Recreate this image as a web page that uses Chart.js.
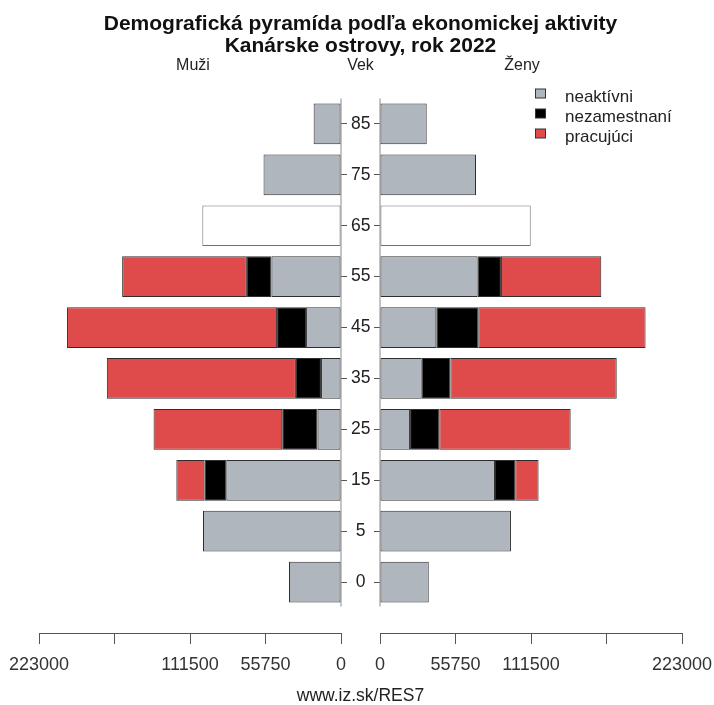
<!DOCTYPE html>
<html>
<head>
<meta charset="utf-8">
<script src="https://cdn.jsdelivr.net/npm/chart.js@4.4.1/dist/chart.umd.min.js"></script>
<style>
  html, body { margin: 0; padding: 0; background: #ffffff; }
  #wrap { position: relative; width: 714px; height: 705px; }
  canvas { position: absolute; left: 0; top: 0; }
</style>
</head>
<body>
<div id="wrap">
  <canvas id="men" width="714" height="705"></canvas>
  <canvas id="women" width="714" height="705"></canvas>
</div>
<script>
// ---------- data (bottom to top) ----------
const ages = ['0', '5', '15', '25', '35', '45', '55', '65', '75', '85'];
const seriesNames = ['neaktívni', 'nezamestnaní', 'pracujúci'];

const maleInactive   = [38400, 101900, 84700, 17300, 14800, 25800, 51300, null, 57200, 20200];
const maleUnemployed = [null, null, 16200, 26100, 18500, 21400, 18200, null, null, null];
const maleEmployed   = [null, null, 20700, 95000, 139600, 155100, 92100, null, null, null];
const maleTotalOnly  = [null, null, null, null, null, null, null, 102400, null, null];

const femaleInactive   = [36000, 96700, 84900, 22200, 30800, 41600, 72100, null, 70900, 34500];
const femaleUnemployed = [null, null, 15000, 21600, 21200, 31000, 17200, null, null, null];
const femaleEmployed   = [null, null, 17200, 97000, 122800, 123500, 74100, null, null, null];
const femaleTotalOnly  = [null, null, null, null, null, null, null, 111300, null, null];

const xTickValues = [0, 55750, 111500, 167250, 223000];
const xTickLabels = ['0', '55750', '111500', '', '223000'];

const titleLines = ['Demografická pyramída podľa ekonomickej aktivity', 'Kanárske ostrovy, rok 2022'];
const sideLabels = ['Muži', 'Vek', 'Ženy'];
const footer = 'www.iz.sk/RES7';

// ---------- styles ----------
const FONT = '"Liberation Sans", Arial, Helvetica, sans-serif';
Chart.defaults.font.family = FONT;
const colInactive = '#b0b6be';
const colUnemployed = '#000000';
const colEmployed = '#df4b4b';
const colBorder = '#2e2e2e';
const axisColor = '#555555';

function pts(arr) { return arr.map((v, i) => ({ x: v, y: i })); }

function makeDatasets(inact, unemp, emp, total) {
  const base = { borderColor: colBorder, borderWidth: 1, categoryPercentage: 1, barPercentage: 0.8, borderSkipped: false };
  return [
    Object.assign({ label: seriesNames[0], data: pts(inact), backgroundColor: colInactive }, base),
    Object.assign({ label: seriesNames[1], data: pts(unemp), backgroundColor: colUnemployed }, base),
    Object.assign({ label: seriesNames[2], data: pts(emp), backgroundColor: colEmployed }, base),
    Object.assign({ label: 'spolu', data: pts(total), backgroundColor: '#ffffff' }, base, { borderColor: '#707070' })
  ];
}

const separator = {
  id: 'separator',
  beforeDatasetsDraw(chart, args, opts) {
    const { ctx, chartArea, scales } = chart;
    const x = opts.side === 'right' ? chartArea.right : chartArea.left;
    ctx.save();
    ctx.strokeStyle = '#8a8a8a';
    ctx.lineWidth = 1;
    ctx.beginPath();
    ctx.moveTo(x, scales.y.getPixelForValue(9.5));
    ctx.lineTo(x, scales.y.getPixelForValue(-0.48));
    ctx.stroke();
    ctx.restore();
  }
};

const annotations = {
  id: 'annotations',
  afterDraw(chart) {
    const ctx = chart.ctx;
    ctx.save();
    ctx.fillStyle = '#111';
    ctx.textAlign = 'center';
    ctx.textBaseline = 'alphabetic';
    ctx.font = 'bold 21px ' + FONT;
    ctx.fillText(titleLines[0], 360.5, 30);
    ctx.fillText(titleLines[1], 360.5, 51.5);
    ctx.fillStyle = '#222';
    ctx.font = '16px ' + FONT;
    ctx.fillText(sideLabels[0], 193, 70);
    ctx.fillText(sideLabels[1], 360.5, 70);
    ctx.fillText(sideLabels[2], 522, 70);
    ctx.font = '17.5px ' + FONT;
    ctx.fillText(footer, 360.5, 701);
    // legend
    const cols = [colInactive, colUnemployed, colEmployed];
    ctx.textAlign = 'left';
    ctx.font = '17px ' + FONT;
    seriesNames.forEach((name, i) => {
      const cy = 93.5 + i * 20;
      ctx.fillStyle = cols[i];
      ctx.fillRect(535.5, cy - 4.5, 10, 9);
      ctx.strokeStyle = '#333';
      ctx.lineWidth = 1;
      ctx.strokeRect(535.5, cy - 4.5, 10, 9);
      ctx.fillStyle = '#222';
      ctx.fillText(name, 565, cy + 8);
    });
    ctx.restore();
  }
};

function xScale(reverse) {
  return {
    type: 'linear', reverse: reverse, min: 0, max: 223000, stacked: true,
    afterBuildTicks: s => { s.ticks = xTickValues.map(v => ({ value: v })); },
    afterFit: s => { s.height = 72; s.paddingLeft = 0; s.paddingRight = 0; },
    grid: { drawOnChartArea: false, drawTicks: true, tickLength: 11, color: axisColor, tickWidth: 1, offset: false },
    border: { display: true, color: axisColor, width: 1 },
    ticks: { callback: (v, i) => xTickLabels[i], font: { size: 18 }, color: '#333', padding: 10,
             maxRotation: 0, minRotation: 0, autoSkip: false }
  };
}

function yScale(position, showLabels) {
  return {
    type: 'linear', min: -1, max: 9.5, stacked: true, position: position, offset: false,
    afterBuildTicks: s => { s.ticks = ages.map((a, i) => ({ value: i })); },
    afterFit: s => { s.width = 39; s.paddingTop = 0; s.paddingBottom = 0; },
    grid: { drawOnChartArea: false, drawTicks: true, tickLength: 6, color: axisColor, offset: false },
    border: { display: false },
    ticks: showLabels
      ? { callback: v => ages[v], crossAlign: 'center', padding: 4, font: { size: 17.5 }, color: '#222', autoSkip: false }
      : { display: false }
  };
}

const baseOptions = {
  indexAxis: 'y', responsive: false, animation: false, devicePixelRatio: 1
};

new Chart(document.getElementById('men'), {
  type: 'bar',
  data: { datasets: makeDatasets(maleInactive, maleUnemployed, maleEmployed, maleTotalOnly) },
  options: Object.assign({}, baseOptions, {
    layout: { padding: { left: 39, right: 334, top: 98.5, bottom: 0 } },
    plugins: { legend: { display: false }, tooltip: { enabled: false }, separator: { side: 'right' } },
    scales: { x: xScale(true), y: yScale('right', true) }
  }),
  plugins: [separator]
});

new Chart(document.getElementById('women'), {
  type: 'bar',
  data: { datasets: makeDatasets(femaleInactive, femaleUnemployed, femaleEmployed, femaleTotalOnly) },
  options: Object.assign({}, baseOptions, {
    layout: { padding: { left: 341, right: 32, top: 98.5, bottom: 0 } },
    plugins: { legend: { display: false }, tooltip: { enabled: false }, separator: { side: 'left' } },
    scales: { x: xScale(false), y: yScale('left', false) }
  }),
  plugins: [separator, annotations]
});
</script>
</body>
</html>
